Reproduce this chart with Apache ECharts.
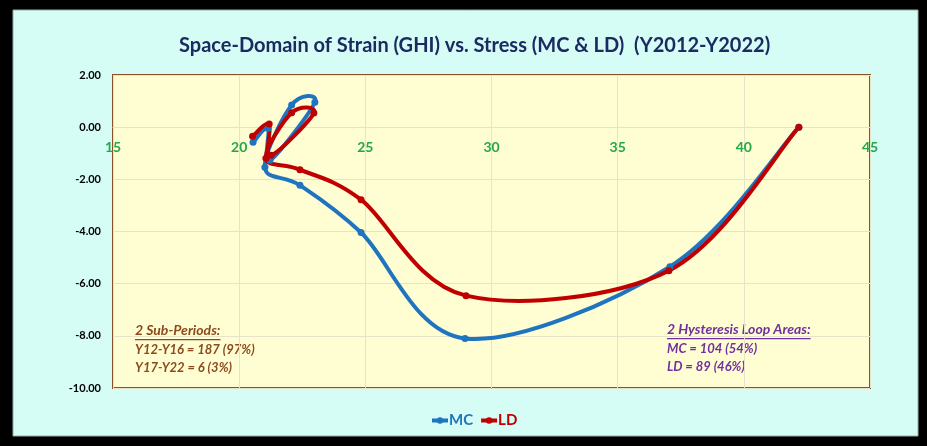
<!DOCTYPE html>
<html>
<head>
<meta charset="utf-8">
<script src="https://cdn.jsdelivr.net/npm/echarts@6/dist/echarts.min.js"></script>
<style>
html,body{margin:0;padding:0;background:#000;}
#chart{width:927px;height:446px;}
</style>
</head>
<body>
<div id="chart"></div>
<script>
// Years Y2012 .. Y2022
var years = ['Y2012','Y2013','Y2014','Y2015','Y2016','Y2017','Y2018','Y2019','Y2020','Y2021','Y2022'];
// MC: stress (x) and strain GHI (y)
var mcStress = [42.18, 37.07, 28.95, 24.83, 22.41, 21.02, 22.08, 23.00, 21.22, 21.14, 20.55];
var mcStrain = [0.00, -5.35, -8.10, -4.04, -2.23, -1.54, 0.85, 0.96, -1.27, -0.04, -0.58];
// LD: stress (x) and strain GHI (y)
var ldStress = [42.18, 37.03, 28.99, 24.83, 22.41, 21.06, 22.08, 22.96, 21.26, 21.19, 20.53];
var ldStrain = [0.00, -5.50, -6.46, -2.78, -1.63, -1.19, 0.55, 0.54, -1.08, 0.12, -0.35];

var xTicks = [15, 20, 25, 30, 35, 40, 45];
var yTicks = [-10, -8, -6, -4, -2, 0, 2];

var titleText = 'Space-Domain of Strain (GHI) vs. Stress (MC & LD)  (Y2012-Y2022)';
var subHeader = '2 Sub-Periods:';
var subLines = ['Y12-Y16 = 187 (97%)', 'Y17-Y22 = 6 (3%)'];
var loopHeader = '2 Hysteresis Loop Areas:';
var loopLines = ['MC = 104 (54%)', 'LD = 89 (46%)'];

function pairs(xs, ys){ return xs.map(function(x,i){ return [x, ys[i]]; }); }

var FONT = 'Lato, "Open Sans", sans-serif';
var brown = '#8c4a1e';
var purple = '#7030a0';
var blue = '#1f74c0';
var red = '#c00000';
var headFont = 'italic bold 14px ' + FONT;
var bodyFont = 'italic bold 13px ' + FONT;

function textWidth(str, font){
  var c = document.createElement('canvas').getContext('2d');
  c.font = font; return c.measureText(str).width;
}

// Smoothed (Catmull-Rom style) curve drawn through the axis scales
function curveSeries(name, xs, ys, color){
  return {
    type: 'custom', name: name + ' curve', data: pairs(xs, ys),
    silent: true, clip: true,
    encode: {x: 0, y: 1},
    renderItem: function(params, api){
      if (params.dataIndex !== 0) return null;
      var n = xs.length;
      var p = xs.map(function(x, i){ return api.coord([x, ys[i]]); });
      var d = 'M' + p[0][0] + ',' + p[0][1];
      for (var i = 0; i < n - 1; i++){
        var p0 = p[Math.max(i-1,0)], p1 = p[i], p2 = p[i+1], p3 = p[Math.min(i+2,n-1)];
        var c1x = p1[0] + (p2[0]-p0[0])/6, c1y = p1[1] + (p2[1]-p0[1])/6;
        var c2x = p2[0] - (p3[0]-p1[0])/6, c2y = p2[1] - (p3[1]-p1[1])/6;
        d += ' C' + c1x + ',' + c1y + ' ' + c2x + ',' + c2y + ' ' + p2[0] + ',' + p2[1];
      }
      return {type:'path', shape:{pathData:d},
        style:{stroke:color, lineWidth:4, fill:'none', lineJoin:'round', lineCap:'round'}};
    }
  };
}
function markerSeries(name, xs, ys, color){
  return {
    name: name, type: 'line', data: pairs(xs, ys),
    symbol: 'circle', symbolSize: 7,
    lineStyle: {color: color, width: 4, opacity: 0},
    itemStyle: {color: color}
  };
}

var GRID = {left: 113, right: 57, top: 75, bottom: 58};
var plotH = 446 - GRID.top - GRID.bottom;
var zeroOffset = -plotH * (0 - yTicks[0]) / (yTicks[yTicks.length-1] - yTicks[0]);

var chart = echarts.init(document.getElementById('chart'), null, {renderer:'canvas'});

var option = {
  backgroundColor: '#000',
  animation: false,
  title: {
    text: titleText,
    left: 174,
    top: 31,
    textStyle: {color:'#1c2a62', fontSize:20, fontWeight:'bold', fontFamily: FONT}
  },
  legend: {
    data: [
      {name:'MC', textStyle:{color:blue}},
      {name:'LD', textStyle:{color:red}}
    ],
    left: 425,
    top: 408,
    itemWidth: 16,
    itemHeight: 8,
    itemGap: 6,
    lineStyle: {opacity: 1, width: 4},
    textStyle: {fontSize:15, fontWeight:'bold', fontFamily: FONT, padding:[0,0,0,-4]}
  },
  grid: {
    left: GRID.left, right: GRID.right, top: GRID.top, bottom: GRID.bottom,
    show: true,
    backgroundColor: '#fffdd2',
    borderColor: '#8a5228',
    borderWidth: 2
  },
  xAxis: {
    type: 'value',
    position: 'bottom',
    offset: zeroOffset,
    min: xTicks[0], max: xTicks[xTicks.length-1], interval: 5,
    axisLine: {show:true, onZero:false, lineStyle:{color:'#e6e3c8', width:1}},
    axisTick: {show:false},
    axisLabel: {color:'#22a84a', fontWeight:'bold', fontSize:14, fontFamily: FONT, margin:13, showMinLabel:true, showMaxLabel:true},
    splitLine: {show:true, lineStyle:{color:'#e6e3c8', width:1}}
  },
  yAxis: {
    type: 'value',
    min: yTicks[0], max: yTicks[yTicks.length-1], interval: 2,
    axisLine: {show:false},
    axisTick: {show:false},
    axisLabel: {color:'#000', fontWeight:'bold', fontSize:11, fontFamily: FONT, margin:12,
      formatter: function(v){ return v.toFixed(2); }},
    splitLine: {show:true, lineStyle:{color:'#e6e3c8', width:1}}
  },
  series: [
    curveSeries('MC', mcStress, mcStrain, blue),
    markerSeries('MC', mcStress, mcStrain, blue),
    curveSeries('LD', ldStress, ldStrain, red),
    markerSeries('LD', ldStress, ldStrain, red)
  ],
  graphic: [
    {type:'rect', z:-10, shape:{x:13, y:10, width:905, height:426},
     style:{fill:'#d5fcf5', stroke:'#9aa', lineWidth:1}, silent:true},
    {type:'text', left:135, top:323, style:{text:subHeader, fill:brown, font:headFont}},
    {type:'rect', shape:{x:135, y:339, width:textWidth(subHeader, headFont), height:1.3}, style:{fill:brown}},
    {type:'text', left:135, top:341, style:{text:subLines.join('\n'), fill:brown, font:bodyFont, lineHeight:18}},
    {type:'text', left:667, top:322, style:{text:loopHeader, fill:purple, font:headFont}},
    {type:'rect', shape:{x:667, y:338, width:textWidth(loopHeader, headFont), height:1.3}, style:{fill:purple}},
    {type:'text', left:667, top:340, style:{text:loopLines.join('\n'), fill:purple, font:bodyFont, lineHeight:18}}
  ]
};
chart.setOption(option);
</script>
</body>
</html>
